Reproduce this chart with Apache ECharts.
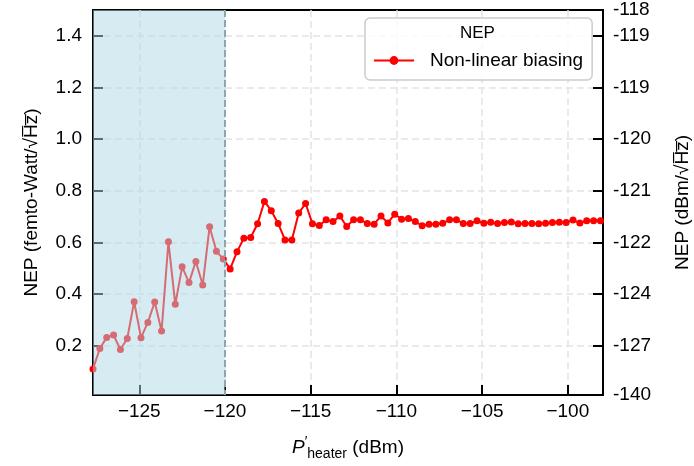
<!DOCTYPE html>
<html>
<head>
<meta charset="utf-8">
<script src="https://cdn.jsdelivr.net/npm/echarts@6/dist/echarts.min.js"></script>
<style>
  html, body { margin: 0; padding: 0; background: #ffffff; }
  #chart { width: 694px; height: 466px; }
</style>
</head>
<body>
<div id="chart"></div>
<script>
// Heater power sweep (dBm)
const heaterPower = [
  -127.7, -127.3, -126.9, -126.5, -126.1, -125.7, -125.3, -124.9, -124.5, -124.1,
  -123.7, -123.3, -122.9, -122.5, -122.1, -121.7, -121.3, -120.9, -120.5, -120.1,
  -119.7, -119.3, -118.9, -118.5, -118.1, -117.7, -117.3, -116.9, -116.5, -116.1,
  -115.7, -115.3, -114.9, -114.5, -114.1, -113.7, -113.3, -112.9, -112.5, -112.1,
  -111.7, -111.3, -110.9, -110.5, -110.1, -109.7, -109.3, -108.9, -108.5, -108.1,
  -107.7, -107.3, -106.9, -106.5, -106.1, -105.7, -105.3, -104.9, -104.5, -104.1,
  -103.7, -103.3, -102.9, -102.5, -102.1, -101.7, -101.3, -100.9, -100.5, -100.1,
  -99.7, -99.3, -98.9, -98.5, -98.1
];

// Noise equivalent power with non-linear biasing (fW/sqrt(Hz))
const nepNonLinear = [
  0.111, 0.190, 0.233, 0.242, 0.186, 0.229, 0.371, 0.232, 0.291, 0.370,
  0.258, 0.603, 0.361, 0.506, 0.445, 0.527, 0.436, 0.661, 0.566, 0.536,
  0.498, 0.564, 0.617, 0.620, 0.673, 0.759, 0.723, 0.674, 0.610, 0.610,
  0.714, 0.751, 0.673, 0.666, 0.688, 0.681, 0.703, 0.662, 0.688, 0.688,
  0.674, 0.671, 0.703, 0.676, 0.710, 0.690, 0.693, 0.681, 0.665, 0.671,
  0.671, 0.675, 0.688, 0.688, 0.674, 0.674, 0.684, 0.675, 0.679, 0.674,
  0.678, 0.680, 0.673, 0.674, 0.674, 0.673, 0.675, 0.678, 0.679, 0.678,
  0.687, 0.676, 0.684, 0.684, 0.684
];

// Axis ranges
const xRange = [-127.7, -97.95];
const yRange = [0.01, 1.5];

// Tick positions and labels
const xTickValues = [-125, -120, -115, -110, -105, -100];
const xTickLabels = ['\u2212125', '\u2212120', '\u2212115', '\u2212110', '\u2212105', '\u2212100'];
const leftTickValues = [0.2, 0.4, 0.6, 0.8, 1.0, 1.2, 1.4];
const leftTickLabels = ['0.2', '0.4', '0.6', '0.8', '1.0', '1.2', '1.4'];
const rightLabelValues = [0.01, 0.2, 0.4, 0.6, 0.8, 1.0, 1.2, 1.4, 1.5];
const rightTickLabels = ['-140', '-127', '-124', '-122', '-121', '-120', '-119', '-119', '-118'];

// Low-power region (shaded) up to the bias threshold
const shadedRegion = [-127.7, -120];

const FONT = '"Liberation Sans", Arial, Helvetica, sans-serif';

function labelFor(values, labels) {
  return function (v) {
    for (let i = 0; i < values.length; i++) {
      if (Math.abs(values[i] - v) < 1e-6) return labels[i];
    }
    return '';
  };
}

const chart = echarts.init(document.getElementById('chart'), null, { renderer: 'canvas' });

const gridLine = { show: true, lineStyle: { color: '#e4e4e4', width: 1.5, type: [7, 4] } };

chart.setOption({
  animation: false,
  backgroundColor: '#ffffff',
  textStyle: { fontFamily: FONT },
  title: {
    text: 'NEP',
    left: 460,
    top: 25,
    padding: 0,
    textStyle: { fontSize: 17, fontWeight: 'normal', color: '#000', fontFamily: FONT }
  },
  legend: {
    data: ['Non-linear biasing'],
    left: 365,
    top: 18,
    orient: 'vertical',
    padding: [33, 9, 10, 8],
    itemWidth: 40,
    itemHeight: 11,
    backgroundColor: 'rgba(255,255,255,0.8)',
    borderColor: '#cccccc',
    borderWidth: 1.5,
    borderRadius: 5,
    textStyle: { fontSize: 19, color: '#000', fontFamily: FONT, padding: [0, 0, 0, 11] }
  },
  grid: {
    left: 93, top: 10, width: 510, height: 385,
    outerBoundsMode: 'none',
    containLabel: false,
    show: true, borderColor: '#000', borderWidth: 2, backgroundColor: 'transparent'
  },
  xAxis: {
    type: 'value',
    min: xRange[0], max: xRange[1],
    axisLine: { show: true, lineStyle: { color: '#000', width: 2 } },
    axisTick: { show: true, inside: true, length: 10, customValues: xTickValues, lineStyle: { color: '#000', width: 2 } },
    axisLabel: {
      customValues: xTickValues,
      formatter: labelFor(xTickValues, xTickLabels),
      fontSize: 19, color: '#000', margin: 7, fontFamily: FONT
    },
    splitLine: gridLine,
    name: '{i|P}{sup|\u2032}{sub|heater}{n| (dBm)}',
    nameLocation: 'middle',
    nameGap: 40,
    nameTextStyle: {
      color: '#000',
      fontFamily: FONT,
      rich: {
        i: { fontSize: 19, fontStyle: 'italic', fontFamily: FONT, lineHeight: 26 },
        sup: { fontSize: 14, fontFamily: FONT, verticalAlign: 'top', lineHeight: 14 },
        sub: { fontSize: 14, fontFamily: FONT, verticalAlign: 'bottom', lineHeight: 14 },
        n: { fontSize: 19, fontFamily: FONT, lineHeight: 26 }
      }
    }
  },
  yAxis: [
    {
      type: 'value',
      position: 'left',
      min: yRange[0], max: yRange[1],
      axisLine: { show: true, lineStyle: { color: '#000', width: 2 } },
      axisTick: { show: true, inside: true, length: 10, customValues: leftTickValues, lineStyle: { color: '#000', width: 2 } },
      axisLabel: {
        customValues: leftTickValues,
        formatter: labelFor(leftTickValues, leftTickLabels),
        fontSize: 19, color: '#000', margin: 11, fontFamily: FONT
      },
      splitLine: gridLine,
      name: 'NEP (femto-Watt/\u221AH\u0305z\u0305)',
      nameLocation: 'middle',
      nameRotate: 90,
      nameGap: 52,
      nameTextStyle: { fontSize: 19, color: '#000', fontFamily: FONT }
    },
    {
      type: 'value',
      position: 'right',
      min: yRange[0], max: yRange[1],
      axisLine: { show: true, lineStyle: { color: '#000', width: 2 } },
      axisTick: { show: true, inside: true, length: 10, customValues: leftTickValues, lineStyle: { color: '#000', width: 2 } },
      axisLabel: {
        customValues: rightLabelValues,
        formatter: labelFor(rightLabelValues, rightTickLabels),
        fontSize: 19, color: '#000', margin: 10, fontFamily: FONT,
        showMinLabel: true, showMaxLabel: true
      },
      splitLine: { show: false },
      name: 'NEP (dBm/\u221AH\u0305z\u0305)',
      nameLocation: 'middle',
      nameRotate: 90,
      nameGap: 70,
      nameTextStyle: { fontSize: 19, color: '#000', fontFamily: FONT }
    }
  ],
  series: [
    {
      name: 'Non-linear biasing',
      type: 'line',
      xAxisIndex: 0,
      yAxisIndex: 0,
      data: heaterPower.map((x, i) => [x, nepNonLinear[i]]),
      symbol: 'circle',
      symbolSize: 7,
      showAllSymbol: true,
      clip: true,
      z: 2,
      itemStyle: { color: '#ff0000' },
      lineStyle: { color: '#ff0000', width: 2 }
    },
    {
      name: 'shaded',
      type: 'custom',
      xAxisIndex: 0,
      yAxisIndex: 0,
      silent: true,
      z: 5,
      data: [[shadedRegion[0], shadedRegion[1]]],
      encode: { x: [0, 1] },
      renderItem: function (params, api) {
        const topLeft = api.coord([api.value(0), yRange[1]]);
        const bottomRight = api.coord([api.value(1), yRange[0]]);
        return {
          type: 'group',
          children: [
            {
              type: 'rect',
              shape: { x: topLeft[0], y: topLeft[1], width: bottomRight[0] - topLeft[0], height: bottomRight[1] - topLeft[1] },
              style: { fill: 'rgba(173,216,230,0.5)' }
            },
            {
              type: 'line',
              shape: { x1: bottomRight[0], y1: topLeft[1], x2: bottomRight[0], y2: bottomRight[1] },
              style: { stroke: '#8fa6ad', lineWidth: 2, lineDash: [7, 3] }
            }
          ]
        };
      }
    }
  ]
});
</script>
</body>
</html>
